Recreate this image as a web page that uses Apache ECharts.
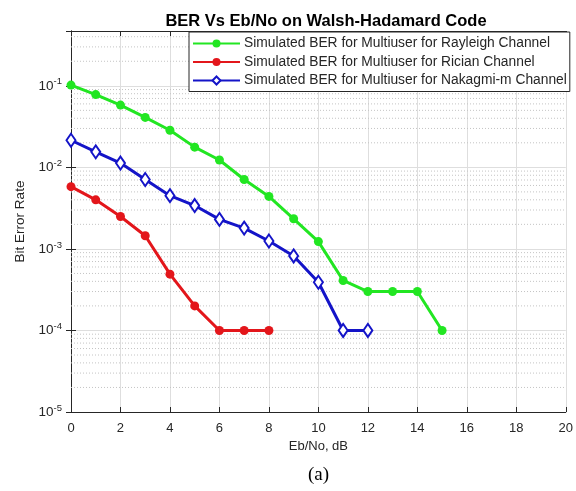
<!DOCTYPE html>
<html><head><meta charset="utf-8">
<script src="https://cdn.jsdelivr.net/npm/echarts@6/dist/echarts.min.js"></script>
<style>html,body{margin:0;padding:0;background:#fff}#c{width:576px;height:491px}</style>
</head><body><div id="c"></div>
<script>
// ---- data ----
const xRayleigh = [0,1,2,3,4,5,6,7,8,9,10,11,12,13,14,15];
const berRayleigh = [0.102,0.078,0.058,0.041,0.0285,0.0177,0.0123,0.0071,0.0044,0.00234,0.00123,0.00041,0.0003,0.0003,0.0003,0.0001];
const xRician = [0,1,2,3,4,5,6,7,8];
const berRician = [0.0058,0.0040,0.0025,0.00145,0.00049,0.0002,0.0001,0.0001,0.0001];
const xNakagami = [0,1,2,3,4,5,6,7,8,9,10,11,12];
const berNakagami = [0.0215,0.0155,0.0113,0.0071,0.0045,0.0034,0.0023,0.0018,0.00125,0.00082,0.00039,0.0001,0.0001];
const seriesNames = ['Simulated BER for Multiuser for Rayleigh Channel','Simulated BER for Multiuser for Rician Channel','Simulated BER for Multiuser for Nakagmi-m Channel'];
const xTicks = [0,2,4,6,8,10,12,14,16,18,20];

const FONT = 'Liberation Sans, Arial, sans-serif';
const AX = '#262626';
const GREEN = '#22e622', RED = '#e3161b', BLUE = '#1414c8';
const yMin = 1e-5, yMax = 0.47;

const minors = [];
for (let n = -5; n <= -1; n++) for (let k = 2; k <= 9; k++) { const v = k * Math.pow(10, n); if (v < yMax) minors.push(+v.toPrecision(3)); }

const pairs = (xs, ys) => xs.map((x, i) => [x, ys[i]]);

const minorSeries = minors.map(v => ({
  name: '_minor', type: 'line', data: [[0, v], [20, v]], symbol: 'none', silent: true, z: 1,
  lineStyle: {type: [1, 2], color: '#c4c4c4', width: 1}, emphasis: {disabled: true}, tooltip: {show: false}
}));

const chart = echarts.init(document.getElementById('c'), null, {renderer: 'canvas'});
const yLabel = v => {
  const e = Math.round(Math.log10(v));
  if (Math.abs(v - Math.pow(10, e)) / v > 0.01) return '';
  return '{b|10}{s|' + e + '}';
};
chart.setOption({
  animation: false,
  backgroundColor: '#fff',
  title: {text: 'BER Vs Eb/No on Walsh-Hadamard Code', left: 321, top: 8, textAlign: 'center',
    textStyle: {fontFamily: FONT, fontSize: 16.5, fontWeight: 'bold', color: '#000'}},
  grid: {left: 71, right: 5, top: 31, bottom: 79, containLabel: false},
  legend: {
    orient: 'vertical', left: 189, top: 32, data: seriesNames,
    backgroundColor: '#fff', borderColor: AX, borderWidth: 1, borderRadius: 0,
    padding: [3.5, 3, 3, 3], itemGap: 2.5, itemWidth: 47, itemHeight: 10,
    textStyle: {fontFamily: FONT, fontSize: 13.8, lineHeight: 16, color: AX, padding: [0, 0, 0, -1]}
  },
  xAxis: [{
    type: 'value', min: 0, max: 20, interval: 2, position: 'bottom',
    axisLine: {show: true, lineStyle: {color: AX, width: 1}},
    axisTick: {show: true, inside: true, length: 5, lineStyle: {color: AX}},
    axisLabel: {color: AX, fontSize: 13, fontFamily: FONT, margin: 10},
    splitLine: {show: true, lineStyle: {color: '#dedede', width: 1}},
    name: 'Eb/No, dB', nameLocation: 'middle', nameGap: 28,
    nameTextStyle: {color: AX, fontSize: 13, fontFamily: FONT}
  }, {
    type: 'value', min: 0, max: 20, interval: 2, position: 'top',
    axisLine: {show: true, lineStyle: {color: AX, width: 1}},
    axisTick: {show: true, inside: true, length: 5, lineStyle: {color: AX}},
    axisLabel: {show: false}, splitLine: {show: false}
  }],
  yAxis: [{
    type: 'log', logBase: 10, min: yMin, max: yMax, interval: 1,
    axisLine: {show: true, lineStyle: {color: AX, width: 1}},
    axisTick: {show: true, inside: true, length: 5, lineStyle: {color: AX}},
    axisLabel: {color: AX, fontFamily: FONT, margin: 9, formatter: yLabel,
      rich: {b: {fontSize: 13.5, fontFamily: FONT, color: AX}, s: {fontSize: 9.5, fontFamily: FONT, color: AX, padding: [0, 0, 8, 0]}}},
    splitLine: {show: true, lineStyle: {color: '#dedede', width: 1}},
    name: 'Bit Error Rate', nameLocation: 'middle', nameGap: 41,
    nameTextStyle: {color: AX, fontSize: 13.5, fontFamily: FONT}
  }, {
    type: 'log', logBase: 10, min: yMin, max: yMax, interval: 1, position: 'right',
    axisLine: {show: true, lineStyle: {color: AX, width: 1}},
    axisTick: {show: true, inside: true, length: 5, lineStyle: {color: AX}},
    axisLabel: {show: false}, splitLine: {show: false}
  }],
  graphic: [{type: 'text', left: 308, top: 466, style: {text: '(a)', font: '19px "Liberation Serif", "Times New Roman", serif', fill: '#000'}}],
  series: minorSeries.concat([
    {name: seriesNames[0], type: 'line', data: pairs(xRayleigh, berRayleigh), color: GREEN,
      symbol: 'circle', symbolSize: 9, lineStyle: {width: 3, color: GREEN}, itemStyle: {color: GREEN}, z: 3},
    {name: seriesNames[1], type: 'line', data: pairs(xRician, berRician), color: RED,
      symbol: 'circle', symbolSize: 9, lineStyle: {width: 3, color: RED}, itemStyle: {color: RED}, z: 3},
    {name: seriesNames[2], type: 'line', data: pairs(xNakagami, berNakagami), color: BLUE,
      symbol: 'diamond', symbolSize: [9, 13], lineStyle: {width: 3, color: BLUE},
      itemStyle: {color: '#ffffff', borderColor: BLUE, borderWidth: 2}, z: 3}
  ])
});
</script></body></html>
